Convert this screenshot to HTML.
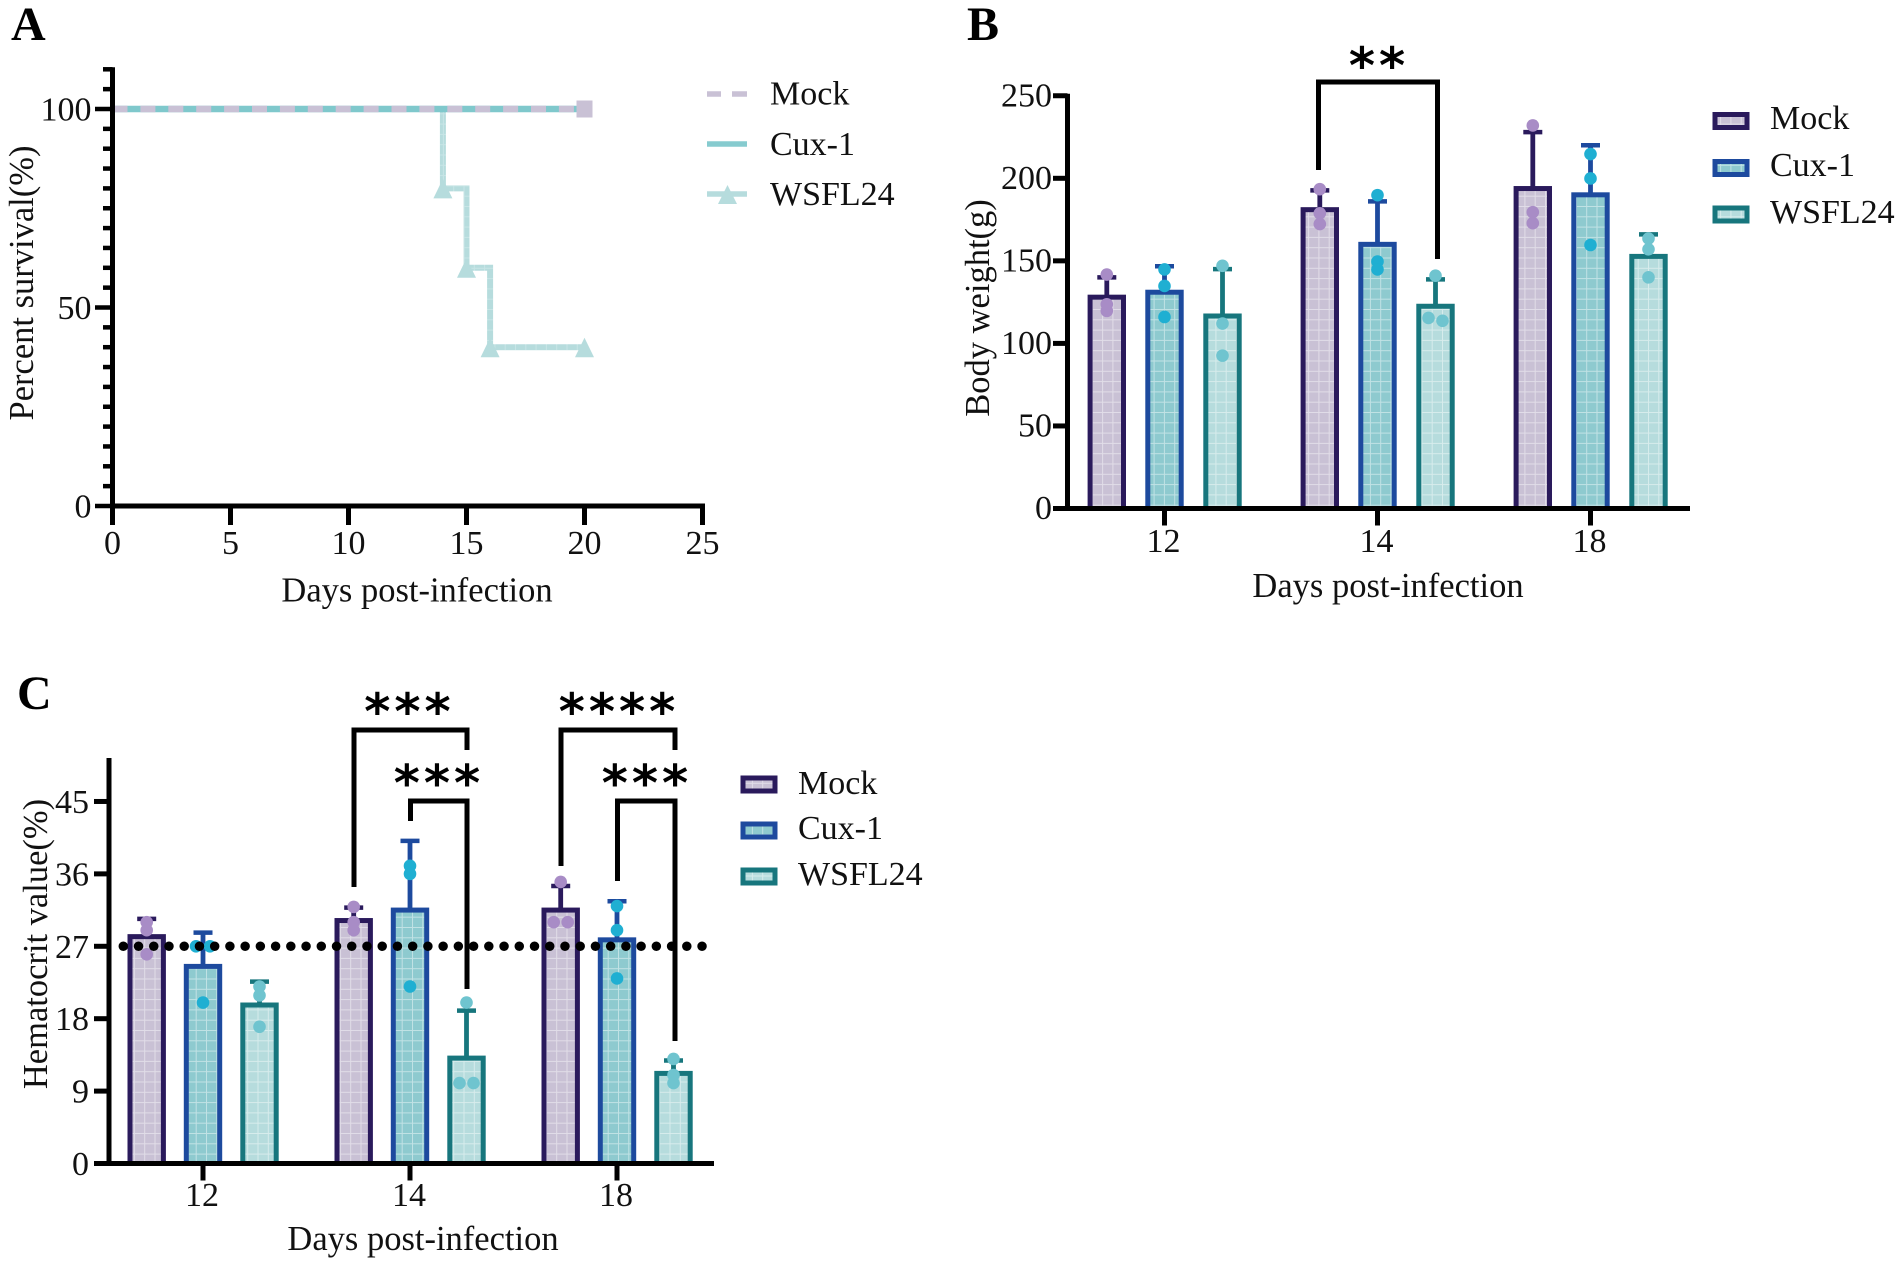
<!DOCTYPE html>
<html lang="en">
<head>
<meta charset="utf-8">
<title>Survival, body weight and hematocrit after infection</title>
<style>
html,body{margin:0;padding:0;background:#fff;}
svg{display:block;}
text{font-family:"Liberation Serif","Times New Roman",serif;fill:#111;}
.t{font-size:34px;}
.a{font-size:34.5px;}
.n{font-size:34px;}
.p{font-size:48px;font-weight:bold;fill:#000;}
.s{font-family:"DejaVu Sans",sans-serif;font-weight:bold;font-size:50px;letter-spacing:4px;text-anchor:middle;fill:#000;}
</style>
</head>
<body>
<svg id="figure" xmlns="http://www.w3.org/2000/svg" width="1902" height="1266" viewBox="0 0 1902 1266">
<defs>
<pattern id="gridMock" patternUnits="userSpaceOnUse" width="10.3" height="10.3"><rect width="10.3" height="10.3" fill="#c9c1d5"/><path d="M0 .5H10.3M.5 0V10.3" stroke="#fff" stroke-opacity=".45" stroke-width="1"/></pattern>
<pattern id="gridCux" patternUnits="userSpaceOnUse" width="10.3" height="10.3"><rect width="10.3" height="10.3" fill="#8ecacf"/><path d="M0 .5H10.3M.5 0V10.3" stroke="#fff" stroke-opacity=".45" stroke-width="1"/></pattern>
<pattern id="gridWsfl" patternUnits="userSpaceOnUse" width="10.3" height="10.3"><rect width="10.3" height="10.3" fill="#b6dcdd"/><path d="M0 .5H10.3M.5 0V10.3" stroke="#fff" stroke-opacity=".45" stroke-width="1"/></pattern>
<pattern id="lineWsfl" patternUnits="userSpaceOnUse" width="10.3" height="10.3"><rect width="10.3" height="10.3" fill="#b6dcdd"/><path d="M0 .5H10.3M.5 0V10.3" stroke="#fff" stroke-opacity=".25" stroke-width="1"/></pattern>
</defs>
<rect width="1902" height="1266" fill="#fff"/>

<g id="panelA">
<text class="p" x="11" y="40">A</text>
<text class="a" transform="translate(33 283) rotate(-90)" text-anchor="middle">Percent survival(%)</text>
<text class="a" x="417" y="601.5" text-anchor="middle">Days post-infection</text>
<g>
<g>
<path d="M707 94H721M732 94H747" stroke="#c9c1d5" stroke-width="5.5" fill="none"/>
<text class="t" x="770" y="104.5">Mock</text>
</g>
<g>
<path d="M707 144H747" stroke="#86cbcf" stroke-width="5.5" fill="none"/>
<text class="t" x="770" y="155">Cux-1</text>
</g>
<g>
<path d="M707 194H747" stroke="#b6dcdd" stroke-width="5.5" fill="none"/>
<path d="M727.5 185L737 204H718Z" fill="#b6dcdd"/>
<text class="t" x="770" y="205">WSFL24</text>
</g>
</g>
</g>

<g id="panelB">
<text class="p" x="967" y="40">B</text>
<text class="a" transform="translate(989 308) rotate(-90)" text-anchor="middle">Body weight(g)</text>
<text class="a" x="1388" y="597" text-anchor="middle">Days post-infection</text>
<g>
<g>
<rect x="1715" y="114.5" width="32" height="13" fill="url(#gridMock)" stroke="#2a1a5c" stroke-width="5"/>
<text class="t" x="1770" y="129">Mock</text>
</g>
<g>
<rect x="1715" y="161.5" width="32" height="13" fill="url(#gridCux)" stroke="#1d4a9e" stroke-width="5"/>
<text class="t" x="1770" y="176">Cux-1</text>
</g>
<g>
<rect x="1715" y="208" width="32" height="13" fill="url(#gridWsfl)" stroke="#17767d" stroke-width="5"/>
<text class="t" x="1770" y="223">WSFL24</text>
</g>
</g>
</g>

<g id="panelC">
<text class="p" x="17" y="709">C</text>
<text class="a" transform="translate(47 944) rotate(-90)" text-anchor="middle">Hematocrit value(%)</text>
<text class="a" x="423" y="1250" text-anchor="middle">Days post-infection</text>
<g>
<g>
<rect x="743" y="778" width="32" height="13" fill="url(#gridMock)" stroke="#2a1a5c" stroke-width="5"/>
<text class="t" x="798" y="794">Mock</text>
</g>
<g>
<rect x="743" y="824" width="32" height="13" fill="url(#gridCux)" stroke="#1d4a9e" stroke-width="5"/>
<text class="t" x="798" y="839">Cux-1</text>
</g>
<g>
<rect x="743" y="870" width="32" height="13" fill="url(#gridWsfl)" stroke="#17767d" stroke-width="5"/>
<text class="t" x="798" y="885">WSFL24</text>
</g>
</g>
</g>
</svg>

<script>
// ---------- Panel A data ----------
const survivalXTicks = [0, 5, 10, 15, 20, 25];
const survivalYLabels = [0, 50, 100];
const survivalYTicks = [0, 5, 10, 15, 20, 25, 30, 35, 40, 45, 50, 55, 60, 65, 70, 75, 80, 85, 90, 95, 100, 105, 110];
const mockDays = [0, 20];
const mockSurvival = [100, 100];
const cuxDays = [0, 20];
const cuxSurvival = [100, 100];
const wsflDays = [0, 14, 15, 16, 20];
const wsflSurvival = [100, 80, 60, 40, 40];

// ---------- Panel B data ----------
const weightDays = ['12', '14', '18'];
const weightTicks = [0, 50, 100, 150, 200, 250];
const weightMock = [128, 181, 193.8];
const weightCux = [131, 160, 190];
const weightWsfl = [116.6, 122.5, 152.7];
const weightMockErr = [140, 192.7, 228];
const weightCuxErr = [146.7, 186, 220];
const weightWsflErr = [145, 138.8, 166];
const weightMockPts = [[141.7, 123.7, 119.7], [193.4, 178.8, 172.3], [232, 179.5, 172.8]];
const weightCuxPts = [[144.8, 134.8, 116], [189.8, 149.6, 144.8], [214.7, 199.9, 159.6]];
const weightWsflPts = [[147, 112, 92.6], [141, 115.4, 113.7], [163.5, 157, 140]];

// ---------- Panel C data ----------
const hctDays = ['12', '14', '18'];
const hctTicks = [0, 9, 18, 27, 36, 45];
const hctReference = 27;
const hctMock = [28.2, 30.2, 31.5];
const hctCux = [24.5, 31.5, 27.8];
const hctWsfl = [19.7, 13.1, 11.2];
const hctMockErr = [30.4, 31.8, 34.5];
const hctCuxErr = [28.7, 40.1, 32.6];
const hctWsflErr = [22.6, 19, 12.8];
const hctMockPts = [[30, 29, 26], [31.9, 30, 29], [35, 30, 30]];
const hctCuxPts = [[27, 27, 20], [37, 36, 22], [32, 29, 23]];
const hctWsflPts = [[22, 20.9, 17], [20, 10, 10], [13, 11, 10]];

// ---------- Axis functions ----------
const xA = d => 112.5 + d * 23.6;
const yA = p => 506 - p * 3.97;
const yB = v => 508.5 - v * 1.651;
const yC = v => 1163.5 - v * 8.045;
const groupB = i => 1164.5 + i * 213;
const groupC = i => 203 + i * 207;

const NS = 'http://www.w3.org/2000/svg';
const AXIS = '#000';

function make(tag, attrs, parent) {
  const el = document.createElementNS(NS, tag);
  for (const k in attrs) el.setAttribute(k, attrs[k]);
  parent.appendChild(el);
  return el;
}

function seg(parent, x1, y1, x2, y2, color, w) {
  return make('line', { x1, y1, x2, y2, stroke: color, 'stroke-width': w }, parent);
}

function label(parent, str, x, y, anchor, cls) {
  const t = make('text', { x, y, 'text-anchor': anchor, class: cls }, parent);
  t.textContent = str;
  return t;
}

function drawBracket(parent, name, x1, x2, top, b1, b2) {
  const p = make('path', {
    d: `M${x1} ${b1}V${top}H${x2}V${b2}`, fill: 'none', stroke: '#000', 'stroke-width': 5
  }, parent);
  
  
}

function drawStars(parent, name, str, x, y) {
  const t = label(parent, str, x + 2, y, 'middle', 's');
  
  
}

// Bars, error bars and points for one grouped panel
function drawSeries(parent, key, means, errs, pts, groupFn, offset, yFn, baseY, fillId, stroke, dot) {
  means.forEach((v, i) => {
    const cx = groupFn(i) + offset;
    const top = yFn(v);
    const capY = yFn(errs[i]);

    const stem = seg(parent, cx, top, cx, capY, stroke, 4.8);
    
    

    const cap = seg(parent, cx - 9.5, capY, cx + 9.5, capY, stroke, 4.5);
    
    

    const bar = make('rect', {
      x: cx - 16.7, y: top, width: 33.4, height: baseY - top,
      fill: 'url(#' + fillId + ')', stroke: stroke, 'stroke-width': 5
    }, parent);
    
    

    const ys = pts[i].map(yFn);
    ys.forEach((py, j) => {
      let dx = 0;
      ys.forEach((oy, k) => {
        if (k !== j && Math.abs(oy - py) < 4) dx = j < k ? -7 : 7;
      });
      const c = make('circle', { cx: cx + dx, cy: py, r: 6.3, fill: dot }, parent);
      
      
    });
  });
}

// Step-shaped survival path
function stepPath(days, vals) {
  let d = `M${xA(days[0])} ${yA(vals[0])}`;
  for (let i = 1; i < days.length; i++) {
    d += `H${xA(days[i])}V${yA(vals[i])}`;
  }
  return d;
}

// ---------- Draw panel A ----------
(function () {
  const g = document.getElementById('panelA');
  const marks = make('g', {}, g);
  
  

  const wsflLine = make('path', { d: stepPath(wsflDays, wsflSurvival), fill: 'none', stroke: 'url(#lineWsfl)', 'stroke-width': 6 }, marks);
  
  

  const cuxLine = make('path', { d: stepPath(cuxDays, cuxSurvival), fill: 'none', stroke: '#7fc8cc', 'stroke-width': 6.5 }, marks);
  
  

  const mockLine = make('path', { d: stepPath(mockDays, mockSurvival), fill: 'none', stroke: '#c9c1d5', 'stroke-width': 6.5, 'stroke-dasharray': '15 12.9' }, marks);
  
  

  const lastMock = mockDays.length - 1;
  const sq = make('rect', { x: xA(mockDays[lastMock]) - 8, y: yA(mockSurvival[lastMock]) - 8.5, width: 16, height: 17, fill: '#c9c1d5' }, marks);
  
  

  wsflDays.forEach((d, i) => {
    if (i === 0) return;
    const x = xA(d), y = yA(wsflSurvival[i]);
    const tri = make('path', { d: `M${x} ${y - 9.5}L${x + 9.5} ${y + 10}H${x - 9.5}Z`, fill: '#b6dcdd' }, marks);
    
    
  });

  const yAxis = seg(g, xA(0), yA(110) - 2, xA(0), yA(0) + 2.5, AXIS, 5);
  
  

  const xAxis = seg(g, xA(0) - 2.5, yA(0), xA(25) + 2.5, yA(0), AXIS, 5);
  
  

  survivalYTicks.forEach(v => {
    const major = survivalYLabels.includes(v);
    const tk = seg(g, major ? 95 : 103, yA(v), xA(0), yA(v), AXIS, 4.5);
    
    
  });
  survivalYLabels.forEach(v => {
    const t = label(g, String(v), 91.5, yA(v) + 11.5, 'end', 'n');
    
    
  });
  survivalXTicks.forEach(v => {
    const tk = seg(g, xA(v), yA(0), xA(v), yA(0) + 19, AXIS, 5);
    
    
    const t = label(g, String(v), xA(v), 554, 'middle', 'n');
    
    
  });
})();

// ---------- Draw panel B ----------
(function () {
  const g = document.getElementById('panelB');
  const marks = make('g', {}, g);
  
  
  const base = yB(0);

  drawSeries(marks, 'weight-mock', weightMock, weightMockErr, weightMockPts, groupB, -57.7, yB, base, 'gridMock', '#2a1a5c', '#a88cc6');
  drawSeries(marks, 'weight-cux', weightCux, weightCuxErr, weightCuxPts, groupB, 0, yB, base, 'gridCux', '#1d4a9e', '#1fafd2');
  drawSeries(marks, 'weight-wsfl24', weightWsfl, weightWsflErr, weightWsflPts, groupB, 58, yB, base, 'gridWsfl', '#17767d', '#6fc4cf');

  const yAxis = seg(g, 1067.5, yB(250) - 2, 1067.5, base + 2.5, AXIS, 5);
  
  

  const xAxis = seg(g, 1053, base, 1690, base, AXIS, 5);
  
  

  weightTicks.forEach(v => {
    const tk = seg(g, 1053, yB(v), 1067.5, yB(v), AXIS, 5);
    
    
    const t = label(g, String(v), 1052, yB(v) + 10.5, 'end', 'n');
    
    
  });
  weightDays.forEach((d, i) => {
    const tk = seg(g, groupB(i), base, groupB(i), base + 17, AXIS, 5);
    
    
    const t = label(g, d, groupB(i) - 1, 552, 'middle', 'n');
    
    
  });

  drawBracket(g, 'significance-bracket-b', 1318.5, 1437.5, 82, 170, 259);
  drawStars(g, 'significance-stars-b', '**', 1377, 83);
})();

// ---------- Draw panel C ----------
(function () {
  const g = document.getElementById('panelC');
  const marks = make('g', {}, g);
  
  
  const base = yC(0);

  drawSeries(marks, 'hct-mock', hctMock, hctMockErr, hctMockPts, groupC, -56.3, yC, base, 'gridMock', '#2a1a5c', '#a88cc6');
  drawSeries(marks, 'hct-cux', hctCux, hctCuxErr, hctCuxPts, groupC, 0, yC, base, 'gridCux', '#1d4a9e', '#1fafd2');
  drawSeries(marks, 'hct-wsfl24', hctWsfl, hctWsflErr, hctWsflPts, groupC, 56.5, yC, base, 'gridWsfl', '#17767d', '#6fc4cf');

  const ref = make('line', {
    x1: 123.3, y1: yC(hctReference), x2: 703, y2: yC(hctReference),
    stroke: '#000', 'stroke-width': 9.5, 'stroke-linecap': 'round', 'stroke-dasharray': '0 15.23'
  }, g);
  
  

  const yAxis = seg(g, 109, yC(50.4), 109, base + 2.5, AXIS, 5);
  
  

  const xAxis = seg(g, 94, base, 714, base, AXIS, 5);
  
  

  hctTicks.forEach(v => {
    const tk = seg(g, 94, yC(v), 109, yC(v), AXIS, 5);
    
    
    const t = label(g, String(v), 89, yC(v) + 11.5, 'end', 'n');
    
    
  });
  hctDays.forEach((d, i) => {
    const tk = seg(g, groupC(i), base, groupC(i), base + 17, AXIS, 5);
    
    
    const t = label(g, d, groupC(i) - 1, 1206, 'middle', 'n');
    
    
  });

  drawBracket(g, 'significance-bracket-c-14-mock', 354, 467, 730, 887, 750);
  drawBracket(g, 'significance-bracket-c-14-cux', 410.5, 467, 801, 821, 989);
  drawBracket(g, 'significance-bracket-c-18-mock', 561, 675, 730, 866, 750);
  drawBracket(g, 'significance-bracket-c-18-cux', 617.5, 675, 801, 881, 1041);
  drawStars(g, 'significance-stars-c-14-mock', '***', 407.5, 729);
  drawStars(g, 'significance-stars-c-14-cux', '***', 437, 800.5);
  drawStars(g, 'significance-stars-c-18-mock', '****', 617, 729);
  drawStars(g, 'significance-stars-c-18-cux', '***', 645, 800.5);
})();
</script>
</body>
</html>
